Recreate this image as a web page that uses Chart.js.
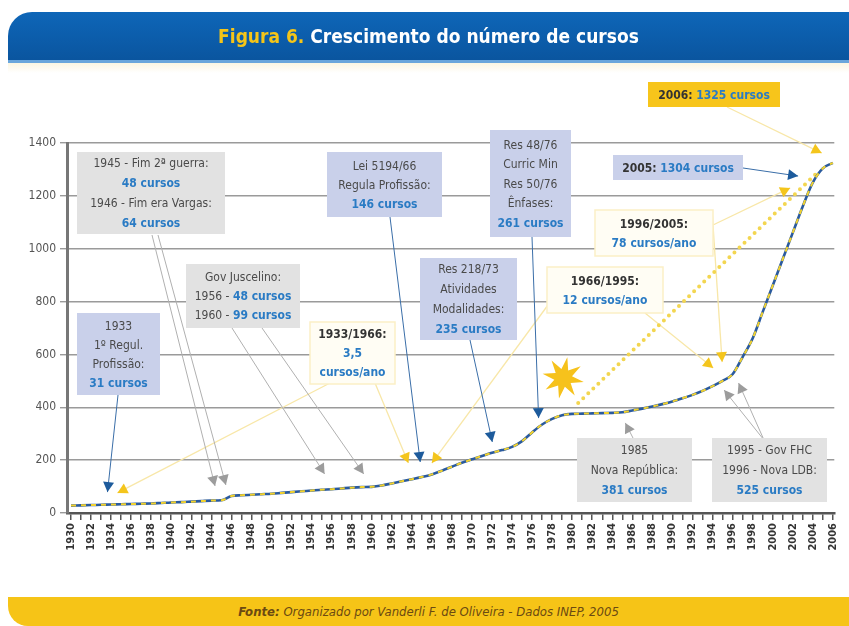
<!DOCTYPE html>
<html>
<head>
<meta charset="utf-8">
<script src="https://cdn.jsdelivr.net/npm/chart.js@4.4.1/dist/chart.umd.min.js"></script>
<style>
  html, body { margin: 0; padding: 0; background: #fff; }
  #wrap { position: relative; width: 849px; height: 626px; overflow: hidden; }
  #chart { position: absolute; left: 0; top: 0; }
  #title {
    position: absolute; left: 8px; top: 12px; width: 841px; height: 48px;
    background: linear-gradient(#0e66b8, #0a559f);
    border-top-left-radius: 24px;
    border-bottom: 3px solid #6aa6dc;
    font: bold 19px 'DejaVu Sans Condensed', 'Liberation Sans Narrow', sans-serif;
    color: #fff; text-align: center; line-height: 48px;
  }
  #title span { color: #f5c518; }
  #shade {
    position: absolute; left: 8px; top: 63px; width: 841px; height: 10px;
    background: linear-gradient(#fbf6e2, #ffffff);
  }
  #footer {
    position: absolute; left: 8px; top: 597px; width: 841px; height: 29px;
    background: #f6c417; border-bottom-left-radius: 20px;
    font: italic 13px 'DejaVu Sans Condensed', 'Liberation Sans Narrow', sans-serif;
    color: #6b4a12; text-align: center; line-height: 29px;
  }
</style>
</head>
<body>
<div id="wrap">
  <canvas id="chart" width="849" height="626"></canvas>
  <div id="shade"></div>
  <div id="title"><span>Figura 6.</span> Crescimento do número de cursos</div>
  <div id="footer"><b>Fonte:</b> Organizado por Vanderli F. de Oliveira - Dados INEP, 2005</div>
</div>
<script>
// anos e número de cursos
const years = [1930, 1931, 1932, 1933, 1934, 1935, 1936, 1937, 1938, 1939,
  1940, 1941, 1942, 1943, 1944, 1945, 1946, 1947, 1948, 1949,
  1950, 1951, 1952, 1953, 1954, 1955, 1956, 1957, 1958, 1959,
  1960, 1961, 1962, 1963, 1964, 1965, 1966, 1967, 1968, 1969,
  1970, 1971, 1972, 1973, 1974, 1975, 1976, 1977, 1978, 1979,
  1980, 1981, 1982, 1983, 1984, 1985, 1986, 1987, 1988, 1989,
  1990, 1991, 1992, 1993, 1994, 1995, 1996, 1997, 1998, 1999,
  2000, 2001, 2002, 2003, 2004, 2005, 2006];
const cursos = [28, 29, 30, 31, 32, 33, 34, 35, 36, 38,
  40, 41, 43, 45, 47, 48, 64, 67, 69, 71,
  73, 76, 79, 82, 85, 88, 90, 93, 96, 98,
  99, 104, 112, 120, 128, 136, 146, 160, 175, 190,
  203, 216, 228, 238, 250, 272, 305, 335, 356, 370,
  375, 376, 377, 378, 379, 381, 388, 395, 403, 412,
  422, 434, 447, 462, 480, 500, 525, 590, 660, 760,
  860, 960, 1060, 1160, 1250, 1304, 1325];
// linha pontilhada de tendência
const trendYears = [1980.6, 2004.7];
const trendValues = [416, 1297];
// estrela
const starYear = 1979.1;
const starValue = 511;
const yTicks = [0, 200, 400, 600, 800, 1000, 1200, 1400];

const NARROW = "'DejaVu Sans Condensed','Liberation Sans Narrow',sans-serif";
const BLUE = '#1d5b9c', GREY = '#9c9c9c', YEL = '#f4c51c', FAINT = '#f8e7a8';

// caixas de texto (n = normal, b = azul negrito, k = escuro negrito)
const boxes = [
  { x: 77, y: 313, w: 83, h: 82, lh: 19, bg: '#c9d0ea', lines: [[['1933', 'n']], [['1º Regul.', 'n']], [['Profissão:', 'n']], [['31 cursos', 'b']]] },
  { x: 77, y: 152, w: 148, h: 82, lh: 20, bg: '#e2e2e2', lines: [[['1945 - Fim 2ª guerra:', 'n']], [['48 cursos', 'b']], [['1946 - Fim era Vargas:', 'n']], [['64 cursos', 'b']]] },
  { x: 186, y: 264, w: 114, h: 64, lh: 19, bg: '#e2e2e2', lines: [[['Gov Juscelino:', 'n']], [['1956 - ', 'n'], ['48 cursos', 'b']], [['1960 - ', 'n'], ['99 cursos', 'b']]] },
  { x: 310, y: 322, w: 85, h: 62, lh: 19, bg: '#fffdf4', border: '#fbefc6', lines: [[['1933/1966:', 'k']], [['3,5', 'b']], [['cursos/ano', 'b']]] },
  { x: 327, y: 152, w: 115, h: 65, lh: 19, bg: '#c9d0ea', lines: [[['Lei 5194/66', 'n']], [['Regula Profissão:', 'n']], [['146 cursos', 'b']]] },
  { x: 420, y: 258, w: 97, h: 82, lh: 20, bg: '#c9d0ea', lines: [[['Res 218/73', 'n']], [['Atividades', 'n']], [['Modalidades:', 'n']], [['235 cursos', 'b']]] },
  { x: 490, y: 130, w: 81, h: 107, lh: 19.5, bg: '#c9d0ea', lines: [[['Res 48/76', 'n']], [['Curric Min', 'n']], [['Res 50/76', 'n']], [['Ênfases:', 'n']], [['261 cursos', 'b']]] },
  { x: 547, y: 267, w: 116, h: 46, lh: 19, bg: '#fffdf4', border: '#fbefc6', lines: [[['1966/1995:', 'k']], [['12 cursos/ano', 'b']]] },
  { x: 577, y: 438, w: 115, h: 64, lh: 20, bg: '#e2e2e2', lines: [[['1985', 'n']], [['Nova República:', 'n']], [['381 cursos', 'b']]] },
  { x: 712, y: 438, w: 115, h: 64, lh: 20, bg: '#e2e2e2', lines: [[['1995 - Gov FHC', 'n']], [['1996 - Nova LDB:', 'n']], [['525 cursos', 'b']]] },
  { x: 595, y: 210, w: 118, h: 46, lh: 19, bg: '#fffdf4', border: '#fbefc6', lines: [[['1996/2005:', 'k']], [['78 cursos/ano', 'b']]] },
  { x: 613, y: 155, w: 130, h: 25, lh: 19, bg: '#c9d0ea', lines: [[['2005: ', 'k'], ['1304 cursos', 'b']]] },
  { x: 648, y: 82, w: 132, h: 25, lh: 19, bg: '#f7c51b', lines: [[['2006: ', 'k'], ['1325 cursos', 'b']]] }
];

// setas: início em pixels (borda da caixa), ponta em (ano, cursos)
const arrows = [
  { from: [118, 395], yr: 1933.64, v: 79, c: BLUE },
  { from: [152, 235], yr: 1944.37, v: 102, c: GREY },
  { from: [158, 235], yr: 1945.45, v: 106, c: GREY },
  { from: [232, 328], yr: 1955.3, v: 148, c: GREY },
  { from: [262, 328], yr: 1959.2, v: 148, c: GREY },
  { from: [390, 217], yr: 1964.84, v: 193, c: BLUE },
  { from: [470, 340], yr: 1972.03, v: 269, c: BLUE },
  { from: [532, 237], yr: 1976.65, v: 359, c: BLUE },
  { from: [633, 438], yr: 1985.3, v: 341, c: GREY },
  { from: [764, 440], yr: 1995.16, v: 465, c: GREY },
  { from: [764, 440], yr: 1996.6, v: 492, c: GREY },
  { from: [743, 168], yr: 2002.54, v: 1275, c: BLUE },
  { from: [330, 383], yr: 1934.63, v: 76, c: YEL, faint: true },
  { from: [375, 383], yr: 1963.66, v: 189, c: YEL, faint: true },
  { from: [548, 305], yr: 1966.0, v: 189, c: YEL, faint: true },
  { from: [645, 313], yr: 1994.07, v: 549, c: YEL, faint: true },
  { from: [712, 210], yr: 1994.96, v: 571, c: YEL, faint: true },
  { from: [713, 225], yr: 2001.75, v: 1230, c: YEL, faint: true },
  { from: [727, 107], yr: 2004.9, v: 1362, c: YEL, faint: true }
];

function drawStar(ctx, cx, cy, rOut, rIn, n) {
  ctx.beginPath();
  for (let i = 0; i < n * 2; i++) {
    const r = i % 2 === 0 ? rOut : rIn;
    const a = -Math.PI / 2 + 0.2 + i * Math.PI / n;
    const px = cx + r * Math.cos(a), py = cy + r * Math.sin(a);
    if (i === 0) ctx.moveTo(px, py); else ctx.lineTo(px, py);
  }
  ctx.closePath();
  ctx.fill();
}

const notesPlugin = {
  id: 'notes',
  beforeDatasetsDraw(chart) {
    const ctx = chart.ctx, xs = chart.scales.x, ys = chart.scales.y;
    ctx.save();
    ctx.lineWidth = 1.3;
    ctx.strokeStyle = FAINT;
    arrows.filter((a) => a.faint).forEach((a) => {
      ctx.beginPath();
      ctx.moveTo(a.from[0], a.from[1]);
      ctx.lineTo(xs.getPixelForValue(a.yr), ys.getPixelForValue(a.v));
      ctx.stroke();
    });
    ctx.restore();
  },
  afterDatasetsDraw(chart) {
    const ctx = chart.ctx, xs = chart.scales.x, ys = chart.scales.y;
    ctx.save();

    // estrela
    ctx.fillStyle = '#f6c21c';
    drawStar(ctx, xs.getPixelForValue(starYear), ys.getPixelForValue(starValue), 21, 9, 8);

    // setas
    arrows.forEach((a) => {
      const tx = xs.getPixelForValue(a.yr), ty = ys.getPixelForValue(a.v);
      if (!a.faint) {
        ctx.strokeStyle = a.c === BLUE ? '#3a6ea8' : '#b0b0b0';
        ctx.lineWidth = 1;
        ctx.beginPath();
        ctx.moveTo(a.from[0], a.from[1]);
        ctx.lineTo(tx, ty);
        ctx.stroke();
      }
      const ang = Math.atan2(ty - a.from[1], tx - a.from[0]);
      const L = 10, W = 5.5;
      ctx.fillStyle = a.c;
      ctx.beginPath();
      ctx.moveTo(tx, ty);
      ctx.lineTo(tx - L * Math.cos(ang) + W * Math.sin(ang), ty - L * Math.sin(ang) - W * Math.cos(ang));
      ctx.lineTo(tx - L * Math.cos(ang) - W * Math.sin(ang), ty - L * Math.sin(ang) + W * Math.cos(ang));
      ctx.closePath();
      ctx.fill();
    });

    // caixas
    boxes.forEach((b) => {
      ctx.fillStyle = b.bg;
      ctx.fillRect(b.x, b.y, b.w, b.h);
      if (b.border) {
        ctx.strokeStyle = b.border;
        ctx.lineWidth = 1.5;
        ctx.strokeRect(b.x, b.y, b.w, b.h);
      }
      const cy = b.y + b.h / 2;
      const n = b.lines.length;
      ctx.textBaseline = 'middle';
      ctx.textAlign = 'left';
      b.lines.forEach((segs, i) => {
        const y = cy + (i - (n - 1) / 2) * b.lh;
        const fonts = segs.map((s) => (s[1] === 'n' ? '' : 'bold ') + '12px ' + NARROW);
        let total = 0;
        segs.forEach((s, j) => { ctx.font = fonts[j]; total += ctx.measureText(s[0]).width; });
        let x = b.x + b.w / 2 - total / 2;
        segs.forEach((s, j) => {
          ctx.font = fonts[j];
          ctx.fillStyle = s[1] === 'b' ? '#2a7bc4' : (s[1] === 'k' ? '#333333' : '#4a4a4a');
          ctx.fillText(s[0], x, y + 1);
          x += ctx.measureText(s[0]).width;
        });
      });
    });
    ctx.restore();
  }
};

const lineData = years.map((y, i) => ({ x: y, y: cursos[i] }));
const trendData = trendYears.map((y, i) => ({ x: y, y: trendValues[i] }));

new Chart(document.getElementById('chart'), {
  type: 'line',
  data: {
    datasets: [
      {
        data: lineData,
        borderColor: '#f2d22e',
        borderWidth: 2,
        borderDash: [5, 5],
        pointRadius: 0,
        cubicInterpolationMode: 'monotone',
        order: 0,
      },
      {
        data: lineData,
        borderColor: '#2a5a9e',
        borderWidth: 2.6,
        pointRadius: 0,
        cubicInterpolationMode: 'monotone',
        order: 1,
      },
      {
        data: trendData,
        borderColor: '#f3d650',
        borderWidth: 4,
        borderDash: [0, 7],
        borderCapStyle: 'round',
        pointRadius: 0,
        order: 2,
      },
    ],
  },
  options: {
    responsive: false,
    animation: false,
    devicePixelRatio: 1,
    layout: { padding: { left: 0, top: 143, right: 4, bottom: 0 } },
    plugins: { legend: { display: false }, tooltip: { enabled: false } },
    scales: {
      x: {
        type: 'linear',
        min: 1929.6,
        max: 2006.15,
        afterBuildTicks: (scale) => { scale.ticks = years.map((v) => ({ value: v })); },
        afterFit: (scale) => { scale.height = 113; },
        ticks: {
          autoSkip: false,
          maxRotation: 90,
          minRotation: 90,
          padding: 3,
          color: '#333',
          font: { family: NARROW, size: 11, weight: 'bold' },
          callback: (v) => (v % 2 === 0 ? String(v) : ''),
        },
        grid: { drawOnChartArea: false, tickLength: 7, color: '#555', lineWidth: 1.5 },
        border: { color: '#555', width: 2.5 },
      },
      y: {
        min: 0,
        max: 1400,
        afterBuildTicks: (scale) => { scale.ticks = yTicks.map((v) => ({ value: v })); },
        afterFit: (scale) => { scale.width = 67; },
        ticks: {
          color: '#555',
          padding: 4,
          font: { family: NARROW, size: 12 },
          callback: (v) => String(v),
        },
        grid: { color: '#9a9a9a', lineWidth: 1.4, tickLength: 7 },
        border: { color: '#777', width: 3 },
      },
    },
  },
  plugins: [notesPlugin],
});
</script>
</body>
</html>
